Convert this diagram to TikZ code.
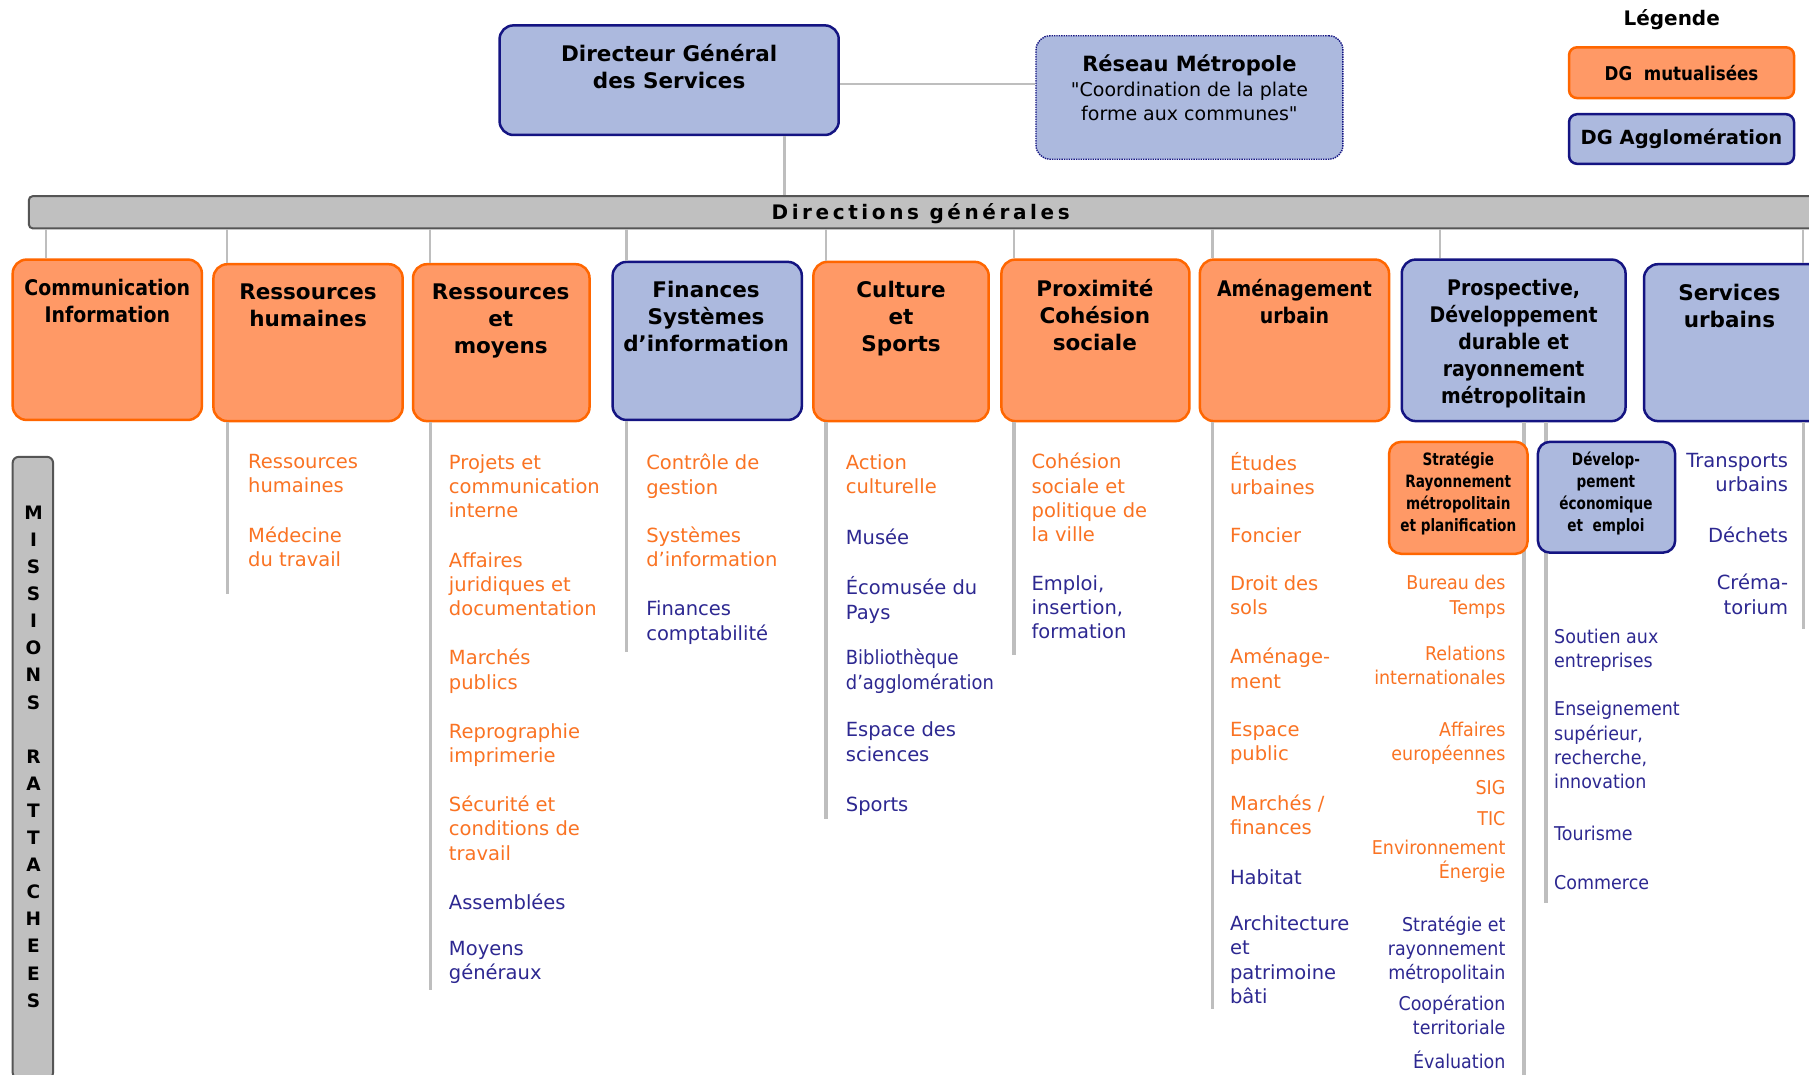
\documentclass[tikz,border=0pt]{standalone}
\usepackage{fontspec}
\setmainfont{DejaVu Sans}
\newfontfamily\cnd[FakeStretch=0.88]{DejaVu Sans}
\newfontfamily\cndb[FakeStretch=0.92]{DejaVu Sans}
\newfontfamily\cnn[FakeStretch=0.80]{DejaVu Sans}
\newfontfamily\spc[LetterSpace=18]{DejaVu Sans}
\newfontfamily\noq[Ligatures=TeXOff]{DejaVu Sans}
\usetikzlibrary{fit}
\definecolor{ofill}{RGB}{255,153,102}
\definecolor{oline}{RGB}{255,102,0}
\definecolor{bfill}{RGB}{172,185,222}
\definecolor{bline}{RGB}{20,20,130}
\definecolor{otxt}{RGB}{250,115,35}
\definecolor{btxt}{RGB}{45,40,145}
\definecolor{lgray}{RGB}{190,190,190}
\definecolor{bargray}{RGB}{192,192,192}
\definecolor{bardark}{RGB}{85,85,85}
\begin{document}
\begin{tikzpicture}[x=1.1537pt,y=-1.1537pt,
 obox/.style={draw=oline,fill=ofill,line width=2.5pt,rounded corners=14pt,inner sep=0pt},
 bbox/.style={draw=bline,fill=bfill,line width=2.5pt,rounded corners=14pt,inner sep=0pt},
 ttl/.style={anchor=north,yshift=8.3pt,inner sep=0pt,align=center,font=\fontsize{21.5}{27}\selectfont\bfseries,execute at begin node=\strut},
 ttlc/.style={ttl,font={\cnd\fontsize{21.5}{27}\selectfont\bfseries}},
 sbt/.style={anchor=north,yshift=7.5pt,inner sep=0pt,align=center,font={\cnn\fontsize{17}{22}\selectfont\bfseries},execute at begin node=\strut},
 itm/.style={anchor=north west,yshift=7.3pt,inner sep=0pt,align=left,font=\fontsize{19.5}{24.3}\selectfont,execute at begin node=\strut},
 itr/.style={itm,anchor=north east,align=right},
 itc/.style={itm,font={\cndb\fontsize{19}{24.3}\selectfont}},
 itcr/.style={itc,anchor=north east,align=right},
 ito/.style={text=otxt},
 itb/.style={text=btxt},
 conn/.style={draw=lgray,line width=2.2pt},
 colline/.style={draw=lgray,line width=3.5pt}
]
\useasboundingbox (0,0) rectangle (1568,931);
\fill[white] (0,0) rectangle (1568,931);

% top level
\node[bbox,fit={(433,22)(727,117)}] (dgs) {};
\node[ttl] (dgst) at (580,45) {Directeur Général\\des Services};
\node[draw=bline,densely dotted,line width=1.4pt,fill=bfill,rounded corners=14pt,inner sep=0pt,fit={(898,31)(1164,138)}] (res) {};
\node[ttl,font=\fontsize{21}{27}\selectfont\bfseries] (rest) at (1031,53) {Réseau Métropole};
\node[anchor=north,yshift=7.3pt,inner sep=0pt,align=center,font=\fontsize{19}{24.5}\selectfont,execute at begin node=\strut] (ress) at (1031,77) {{\noq"}Coordination de la plate\\forme aux communes{\noq"}};
\coordinate (hy) at (0,73);
\draw[conn] (dgs.east |- hy) -- (res.west |- hy);

% legend
\node[font=\fontsize{20}{24}\selectfont\bfseries,inner sep=0pt] (leg) at (1449,17) {Légende};
\node[obox,rounded corners=8pt,fit={(1360,41)(1555,85)}] (lo) {};
\node[font={\cnd\fontsize{19}{22}\selectfont\bfseries},inner sep=0pt] (lot) at (lo.center) {DG~ mutualisées};
\node[bbox,rounded corners=8pt,fit={(1360,99)(1555,142)}] (lb) {};
\node[font=\fontsize{19.5}{22}\selectfont\bfseries,inner sep=0pt] (lbt) at (lb.center) {DG Agglomération};

% bar
\node[draw=bardark,fill=bargray,line width=2pt,rounded corners=4pt,inner sep=0pt,fit={(25,170)(1600,198)}] (bar) {};
\node[font={\spc\fontsize{20}{24}\selectfont\bfseries},inner sep=0pt] (bart) at (798,185) {Directions générales};
\coordinate (kd) at (680,0);
\draw[conn] (kd |- dgs.south) -- (kd |- bar.north);

% direction boxes
\node[obox,fit={(11,225)(175,364)}] (b1) {};
\node[obox,fit={(185,229)(349,365)}] (b2) {};
\node[obox,fit={(358,229)(511,365)}] (b3) {};
\node[bbox,fit={(531,227)(695,364)}] (b4) {};
\node[obox,fit={(705,227)(857,365)}] (b5) {};
\node[obox,fit={(868,225)(1031,365)}] (b6) {};
\node[obox,fit={(1040,225)(1204,365)}] (b7) {};
\node[bbox,fit={(1215,225)(1409,365)}] (b8) {};
\node[bbox,fit={(1425,229)(1600,365)}] (b9) {};

\node[ttlc] (t1) at (93,249) {Communication\\Information};
\node[ttl] (t2) at (267,253) {Ressources\\humaines};
\node[ttl] (t3) at (434,253) {Ressources\\et\\moyens};
\node[ttl] (t4) at (612,251) {Finances\\Systèmes\\d’information};
\node[ttl] (t5) at (781,251) {Culture\\et\\Sports};
\node[ttl] (t6) at (949,249) {Proximité\\Cohésion\\sociale};
\node[ttlc] (t7) at (1122,249) {Aménagement\\urbain};
\node[ttlc] (t8) at (1312,249) {Prospective,\\Développement\\durable et\\rayonnement\\métropolitain};
\node[ttl] (t9) at (1499,253) {Services\\urbains};

\foreach \n/\x in {1/40,2/197,3/373,4/543,5/716,6/879,7/1051,8/1248,9/1563}{
  \coordinate (k\n) at (\x,0);
  \draw[conn] (k\n |- bar.south) -- (k\n |- b\n.north);
}

% column lines
\foreach \n/\x/\y in {2/197/515,3/373/858,4/543/565,5/716/710,6/879/568,7/1051/875,8/1321/945,8/1340/783,9/1563/545}{
  \coordinate (e\n) at (\x,\y);
  \draw[colline] (e\n |- b\n.south) -- (e\n);
}

% missions bar
\node[draw=bardark,fill=bargray,line width=2pt,rounded corners=6pt,inner sep=0pt,fit={(11,396)(46,935)}] (mr) {};
\node[anchor=north,yshift=6.6pt,inner sep=0pt,align=center,font=\fontsize{18.5}{27.1}\selectfont\bfseries,execute at begin node=\strut] (mrt) at (29,444)
 {M\\I\\S\\S\\I\\O\\N\\S\\[27.1pt]R\\A\\T\\T\\A\\C\\H\\E\\E\\S};

% sub boxes
\node[obox,rounded corners=12pt,fit={(1204,383)(1324,480)}] (sa) {};
\node[sbt] (sat) at (1264,398) {Stratégie\\Rayonnement\\métropolitain\\et planification};
\node[bbox,rounded corners=12pt,fit={(1333,383)(1452,479)}] (sb) {};
\node[sbt] (sbt1) at (1392,398) {Dévelop-\\pement\\économique\\et~ emploi};

% items: RH
\node[itm,ito] (i1) at (215,400) {Ressources\\humaines};
\node[itm,ito] (i2) at (215,463) {Médecine\\du travail};
% R&M
\node[itm,ito] (i3) at (389,400) {Projets et\\communication\\interne};
\node[itm,ito] (i4) at (389,485) {Affaires\\juridiques et\\documentation};
\node[itm,ito] (i5) at (389,569) {Marchés\\publics};
\node[itm,ito] (i6) at (389,633) {Reprographie\\imprimerie};
\node[itm,ito] (i7) at (389,696) {Sécurité et\\conditions de\\travail};
\node[itm,itb] (i8) at (389,780) {Assemblées};
\node[itm,itb] (i9) at (389,822) {Moyens\\généraux};
% Finances
\node[itm,ito] (i10) at (560,400) {Contrôle de\\gestion};
\node[itm,ito] (i11) at (560,463) {Systèmes\\d’information};
\node[itm,itb] (i12) at (560,527) {Finances\\comptabilité};
% Culture
\node[itm,ito] (i13) at (733,400) {Action\\culturelle};
\node[itm,itb] (i14) at (733,463) {Musée};
\node[itm,itb] (i15) at (733,506) {Écomusée du\\Pays};
\node[itc,itb,font={\cndb\fontsize{19.5}{24.3}\selectfont}] (i16) at (733,569) {Bibliothèque\\d’agglomération};
\node[itm,itb] (i17) at (733,632) {Espace des\\sciences};
\node[itm,itb] (i18) at (733,695) {Sports};
% Proximite
\node[itm,ito] (i19) at (894,399) {Cohésion\\sociale et\\politique de\\la ville};
\node[itm,itb] (i20) at (894,505) {Emploi,\\insertion,\\formation};
% Amenagement
\node[itm,ito] (i21) at (1066,398) {Études\\urbaines};
\node[itm,ito] (i22) at (1066,462) {Foncier};
\node[itm,ito] (i23) at (1066,505) {Droit des\\sols};
\node[itm,ito] (i24) at (1066,568) {Aménage-\\ment};
\node[itm,ito] (i25) at (1066,632) {Espace\\public};
\node[itm,ito] (i26) at (1066,695) {Marchés /\\finances};
\node[itm,itb] (i27) at (1066,758) {Habitat};
\node[itm,itb] (i28) at (1066,800) {Architecture\\et\\patrimoine\\bâti};
% Strategie column
\node[itcr,ito] (i29) at (1305,505) {Bureau des\\Temps};
\node[itcr,ito] (i30) at (1305,566) {Relations\\internationales};
\node[itcr,ito] (i31) at (1305,632) {Affaires\\européennes};
\node[itcr,ito] (i32) at (1305,680) {SIG};
\node[itcr,ito] (i33) at (1305,707) {TIC};
\node[itcr,ito] (i34) at (1305,734) {Environnement\\Énergie};
\node[itcr,itb] (i35) at (1305,800) {Stratégie et\\rayonnement\\métropolitain};
\node[itcr,itb] (i36) at (1305,869) {Coopération\\territoriale};
\node[itcr,itb] (i37) at (1305,917) {Évaluation};
% Developpement column
\node[itc,itb] (i38) at (1347,551) {Soutien aux\\entreprises};
\node[itc,itb] (i39) at (1347,614) {Enseignement\\supérieur,\\recherche,\\innovation};
\node[itc,itb] (i40) at (1347,720) {Tourisme};
\node[itc,itb] (i41) at (1347,762) {Commerce};
% Services urbains
\node[itr,itb] (i42) at (1550,399) {Transports\\urbains};
\node[itr,itb] (i43) at (1550,462) {Déchets};
\node[itr,itb] (i44) at (1550,504) {Créma-\\torium};
\end{tikzpicture}
\end{document}
